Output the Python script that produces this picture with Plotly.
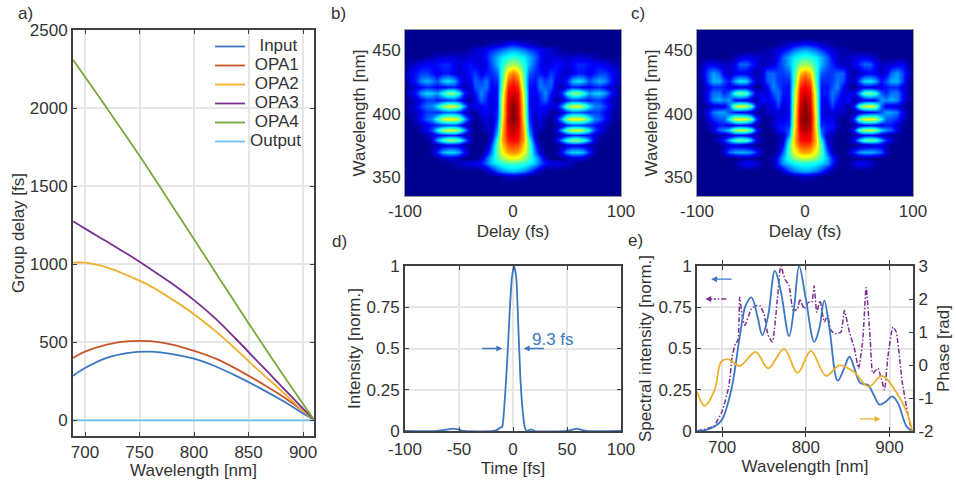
import plotly.graph_objects as go

W, H = 956, 480
TXT = "#333333"
FRAME = "#404040"
GRID = "#e6e6e6"
FONT = "Liberation Sans"

# ---- panel a
wl_a = [689, 700, 720, 740, 760, 780, 800, 820, 840, 860, 880, 900, 910]
gd_input = [285, 335, 400, 432, 440, 425, 395, 345, 280, 208, 130, 45, 5]
gd_opa1 = [400, 440, 485, 507, 507, 485, 445, 395, 325, 245, 160, 60, 5]
gd_opa2 = [1010, 1010, 980, 925, 860, 775, 680, 570, 445, 315, 190, 60, 5]
gd_opa3 = [1275, 1228, 1145, 1060, 970, 875, 770, 650, 510, 365, 220, 75, 5]
wl_opa4 = [689, 700, 720, 750, 775, 800, 825, 850, 875, 900, 910]
gd_opa4 = [2310, 2200, 2000, 1695, 1428, 1160, 890, 622, 360, 105, 5]
gd_output = [0] * len(wl_a)

# ---- panels b, c  (half maps: delay >= 0, mirrored about zero delay)
delay_half = [0, 5, 10, 15, 20, 25, 30, 35, 40, 45, 50, 55, 60, 65, 70, 75, 80, 85, 90, 95, 100]
wl_map = [335, 345, 351, 355, 361, 365, 370, 375, 379, 383, 387, 391, 396, 401, 406, 411, 416,
          421, 426, 432, 439, 445, 450, 455, 460, 466]
map_b = [
    [0],
    [0],
    [6, 5, 3],
    [32, 30, 26, 20, 10, 4],
    [44, 44, 42, 38, 32, 22, 14, 10, 10, 8, 6, 4],
    [62, 60, 52, 44, 32, 20, 6, 0, 0, 0, 4, 8, 8, 6, 2],
    [74, 72, 62, 46, 24, 8, 0, 0, 2, 14, 28, 34, 34, 30, 16, 4],
    [82, 80, 66, 46, 18, 2, 0, 0, 0, 3, 8, 10, 10, 8, 4, 2],
    [88, 85, 70, 42, 10, 0, 0, 0, 8, 28, 44, 52, 52, 44, 28, 10, 2],
    [91, 88, 70, 32, 6, 0, 0, 0, 2, 6, 12, 16, 16, 14, 12, 8, 4],
    [94, 90, 68, 26, 6, 6, 0, 0, 8, 30, 50, 58, 60, 54, 38, 20, 12, 6],
    [96, 92, 66, 22, 4, 8, 2, 0, 2, 8, 16, 20, 20, 18, 16, 14, 10, 6, 2],
    [100, 94, 62, 18, 4, 10, 4, 0, 10, 32, 54, 62, 62, 58, 42, 26, 22, 14, 6],
    [100, 92, 60, 16, 8, 12, 10, 2, 2, 8, 16, 22, 22, 20, 16, 18, 18, 12, 6, 2],
    [100, 92, 60, 14, 8, 14, 12, 10, 8, 28, 50, 58, 60, 52, 36, 26, 24, 18, 10, 4],
    [96, 90, 58, 14, 8, 16, 22, 10, 2, 6, 14, 20, 18, 16, 14, 18, 18, 12, 6, 2],
    [92, 88, 56, 14, 10, 18, 26, 14, 6, 16, 38, 50, 52, 42, 28, 32, 34, 28, 16, 8],
    [88, 84, 50, 14, 12, 24, 22, 20, 6, 4, 10, 16, 14, 12, 12, 14, 16, 12, 8, 4],
    [84, 78, 46, 16, 14, 24, 18, 22, 10, 8, 16, 30, 36, 32, 20, 26, 30, 26, 16, 8, 2],
    [76, 68, 44, 22, 16, 14, 10, 18, 14, 8, 6, 10, 14, 14, 10, 14, 18, 18, 14, 10, 3],
    [54, 50, 40, 30, 20, 12, 8, 10, 14, 12, 8, 12, 16, 16, 14, 12, 12, 10, 8, 4],
    [42, 40, 36, 30, 22, 14, 8, 8, 8, 6, 6, 8, 8, 8, 6, 4, 2],
    [30, 28, 24, 20, 16, 12, 10, 8, 4, 2],
    [14, 12, 8, 6, 4, 2],
    [0],
    [0],
]
map_c = [
    [0],
    [0],
    [6, 5, 3],
    [30, 28, 24, 18, 8, 2],
    [40, 40, 38, 34, 28, 16, 4, 0, 2, 8, 12, 12, 8, 2],
    [58, 56, 50, 42, 30, 16, 4, 0, 0, 0, 2, 2, 2],
    [72, 70, 60, 46, 22, 6, 0, 0, 4, 16, 26, 30, 30, 28, 22, 8],
    [82, 80, 66, 44, 14, 2, 0, 0, 0, 0, 2, 4, 6, 8, 8, 4],
    [88, 86, 68, 38, 8, 2, 0, 0, 2, 12, 32, 46, 50, 46, 30, 16, 8, 2],
    [91, 88, 66, 26, 6, 4, 0, 0, 0, 2, 6, 10, 12, 10, 6, 4, 2],
    [96, 92, 64, 22, 14, 12, 2, 0, 2, 16, 44, 56, 58, 54, 34, 26, 22, 10, 2],
    [98, 94, 60, 16, 14, 14, 6, 0, 0, 2, 8, 12, 14, 12, 10, 14, 14, 8, 2],
    [100, 96, 60, 14, 10, 10, 4, 0, 2, 18, 48, 60, 62, 60, 38, 22, 20, 16, 8],
    [100, 94, 58, 12, 6, 10, 6, 8, 0, 2, 6, 10, 12, 14, 20, 28, 28, 24, 12, 2],
    [100, 92, 56, 12, 8, 18, 10, 8, 2, 14, 44, 58, 60, 56, 22, 10, 8, 8, 4],
    [96, 90, 54, 12, 12, 22, 14, 10, 14, 2, 6, 10, 12, 12, 28, 26, 30, 26, 14, 2],
    [92, 88, 52, 14, 14, 24, 20, 8, 10, 10, 26, 46, 50, 44, 22, 16, 24, 24, 14, 4],
    [88, 84, 48, 14, 14, 20, 26, 12, 4, 0, 6, 10, 10, 8, 10, 14, 16, 16, 10, 2],
    [84, 78, 44, 16, 16, 18, 24, 20, 8, 6, 20, 34, 36, 30, 14, 20, 30, 30, 20, 4],
    [74, 68, 42, 22, 18, 18, 22, 22, 8, 2, 6, 10, 12, 10, 6, 10, 22, 28, 20, 8],
    [54, 50, 40, 30, 22, 16, 8, 6, 4, 10, 16, 22, 22, 12, 6, 6, 8, 10, 12, 4],
    [42, 40, 36, 30, 22, 12, 6, 4, 6, 8, 10, 10, 8, 4],
    [30, 28, 24, 18, 12, 8, 6, 4, 2],
    [14, 12, 10, 6, 4, 2],
    [0],
    [0],
]

# ---- panel d
time_fs = [-100, -70, -60, -55, -50, -45, -18, -14, -12, -10, -9, -7, -5, -3, -1, 1, 3, 5, 7, 9, 11,
           13, 17, 20, 50, 55, 59, 64, 68, 100]
intensity = [0, 0, 0.01, 0.015, 0.008, 0, 0, 0.01, 0.02, 0.025, 0.07, 0.25, 0.47, 0.73, 0.93, 1, 0.93,
             0.62, 0.3, 0.12, 0.02, 0, 0.01, 0, 0, 0.008, 0.015, 0.006, 0, 0]

# ---- panel e
wl_blue = [670, 680, 692, 700, 711, 721, 728, 735, 742, 748, 755, 763, 770, 780, 786, 792, 800, 810,
           816, 822, 828, 838, 845, 852, 858, 865, 874, 881, 888, 896, 903, 910, 920, 927, 930]
spec_blue = [0, 0.005, 0.03, 0.07, 0.25, 0.57, 0.76, 0.81, 0.70, 0.58, 0.70, 0.97, 0.85, 0.575, 0.75,
             1.0, 0.80, 0.54, 0.62, 0.79, 0.63, 0.305, 0.37, 0.45, 0.38, 0.29, 0.28, 0.22, 0.16, 0.18,
             0.21, 0.17, 0.03, 0, 0]
wl_purple = [670, 690, 700, 708, 712, 716, 719, 721, 724, 727, 735, 740, 745, 750, 755, 760, 766, 770,
             775, 780, 785, 790, 793, 798, 803, 807, 810, 813, 817, 822, 826, 830, 835, 842, 846, 852,
             858, 863, 868, 872, 877, 880, 886, 890, 894, 898, 904, 908, 915, 922, 927, 930]
spec_purple = [0, 0.03, 0.12, 0.27, 0.45, 0.53, 0.55, 0.81, 0.70, 0.64, 0.74, 0.76, 0.76, 0.71, 0.58,
               0.54, 0.80, 1.0, 0.92, 0.88, 0.73, 0.74, 0.80, 0.74, 0.78, 0.78, 0.88, 0.72, 0.79, 0.66,
               0.70, 0.61, 0.59, 0.60, 0.73, 0.60, 0.50, 0.38, 0.55, 0.87, 0.55, 0.35, 0.38, 0.32,
               0.25, 0.45, 0.63, 0.60, 0.30, 0.10, 0, 0]
wl_phase = [670, 679, 691, 699, 707, 721, 740, 755, 774, 790, 806, 824, 840, 857, 875, 891, 909, 921, 927]
phase_rad = [-0.81, -1.23, -0.76, 0.10, 0.18, -0.03, 0.40, -0.10, 0.49, -0.24, 0.43, -0.33, -0.01, -0.20,
             -0.66, -0.33, -0.86, -1.45, -2]

BLUE, ORANGE, YELLOW = "#3b78c3", "#c9572c", "#ecb02c"
PURPLE, GREEN, LIGHT = "#7a2f90", "#79a93a", "#6fbff0"
DASHDOT = "5px,2px,1.5px,2px"


def dom_x(a, b):
    return [a / W, b / W]


def dom_y(top, bottom):
    return [1 - bottom / H, 1 - top / H]


def full(rows):
    out = []
    for r in rows:
        r = r + [0] * (len(delay_half) - len(r))
        out.append(r[:0:-1] + r)
    return out


delay = [-d for d in delay_half[:0:-1]] + delay_half
jet = [[0, "#00008f"], [0.125, "#0000ff"], [0.375, "#00ffff"], [0.625, "#ffff00"], [0.875, "#ff0000"], [1, "#800000"]]

fig = go.Figure()
for name, xs, ys, col in [("\u00a0\u00a0Input", wl_a, gd_input, BLUE), ("\u00a0OPA1", wl_a, gd_opa1, ORANGE),
                          ("\u00a0OPA2", wl_a, gd_opa2, YELLOW), ("\u00a0OPA3", wl_a, gd_opa3, PURPLE),
                          ("\u00a0OPA4", wl_opa4, gd_opa4, GREEN), ("Output", wl_a, gd_output, LIGHT)]:
    fig.add_trace(go.Scatter(x=xs, y=ys, name=f'<span style="font-size:17px">{name}</span>', mode="lines",
                             xaxis="x", yaxis="y", line=dict(color=col, width=1.8, shape="spline", smoothing=1)))
for z, xa, ya in [(map_b, "x2", "y2"), (map_c, "x3", "y3")]:
    fig.add_trace(go.Heatmap(x=delay, y=wl_map, z=full(z), xaxis=xa, yaxis=ya, zmin=0, zmax=100,
                             colorscale=jet, zsmooth="best", showscale=False, showlegend=False))
fig.add_trace(go.Scatter(x=time_fs, y=intensity, mode="lines", xaxis="x4", yaxis="y4", showlegend=False,
                         line=dict(color=BLUE, width=1.8, shape="spline", smoothing=0.6)))
fig.add_trace(go.Scatter(x=wl_purple, y=spec_purple, mode="lines", xaxis="x5", yaxis="y5", showlegend=False,
                         line=dict(color=PURPLE, width=1.5, dash=DASHDOT, shape="spline", smoothing=0.5)))
fig.add_trace(go.Scatter(x=wl_blue, y=spec_blue, mode="lines", xaxis="x5", yaxis="y5", showlegend=False,
                         line=dict(color=BLUE, width=1.8, shape="spline", smoothing=1)))
fig.add_trace(go.Scatter(x=wl_phase, y=phase_rad, mode="lines", xaxis="x5", yaxis="y6", showlegend=False,
                         line=dict(color=YELLOW, width=1.8, shape="spline", smoothing=1)))
fig.add_trace(go.Scatter(x=[705, 690], y=[0.80, 0.80], mode="lines", xaxis="x5", yaxis="y5", showlegend=False,
                         line=dict(color=PURPLE, width=1.3, dash=DASHDOT)))

tickf = dict(size=17, color=TXT, family=FONT)
titlef = dict(size=17, color=TXT, family=FONT)


def axis(dom, rng, vals, title, anchor, standoff, labels=None, grid=True, side=None, mirror="allticks", ticks="inside", lc=FRAME, lw=2):
    d = dict(domain=dom, range=rng, tickmode="array", tickvals=vals, automargin=False,
             ticktext=labels if labels else [str(v) for v in vals], showgrid=grid, gridcolor=GRID, gridwidth=1.5,
             zeroline=False, showline=True, linecolor=lc, linewidth=lw, mirror=mirror, ticks=ticks, ticklen=4,
             tickcolor=lc, tickwidth=1.3, tickfont=tickf, anchor=anchor,
             title=dict(text=title, font=titlef, standoff=standoff))
    if side:
        d["side"] = side
    return d


layout = dict(
    width=W, height=H, autosize=False, margin=dict(l=0, r=0, t=0, b=0, autoexpand=False),
    paper_bgcolor="white", plot_bgcolor="white", font=dict(family=FONT, color=TXT),
    legend=dict(x=210 / W, xanchor="left", y=1 - 32 / H, yanchor="top", bgcolor="rgba(0,0,0,0)",
                font=dict(size=12, color=TXT, family=FONT), tracegroupgap=0),
    xaxis=axis(dom_x(73, 314), [689, 910], [700, 750, 800, 850, 900], "Wavelength [nm]", "y", 2),
    yaxis=axis(dom_y(30, 436), [-100, 2500], [0, 500, 1000, 1500, 2000, 2500], "Group delay [fs]", "x", 1),
    xaxis2=axis(dom_x(405, 621), [-100, 100], [-100, 0, 100], "Delay (fs)", "y2", 4, grid=False, ticks="", lc="#9a9a9a", lw=1),
    yaxis2=axis(dom_y(30, 196), [335, 466], [350, 400, 450], "Wavelength [nm]", "x2", 2, grid=False, ticks="", lc="#9a9a9a", lw=1),
    xaxis3=axis(dom_x(697, 913), [-100, 100], [-100, 0, 100], "Delay (fs)", "y3", 4, grid=False, ticks="", lc="#9a9a9a", lw=1),
    yaxis3=axis(dom_y(30, 196), [335, 466], [350, 400, 450], "Wavelength [nm]", "x3", 2, grid=False, ticks="", lc="#9a9a9a", lw=1),
    xaxis4=dict(axis(dom_x(405, 621), [-100, 100], [-100, -50, 0, 50, 100], "Time [fs]", "y4", 2), ticklabelstandoff=2),
    yaxis4=axis(dom_y(266, 431), [0, 1], [0, 0.25, 0.5, 0.75, 1], "Intensity [norm.]", "x4", 2,
                labels=["0", "0.25", "0.5", "0.75", "1"]),
    xaxis5=axis(dom_x(697, 913), [670, 928], [700, 800, 900], "Wavelength [nm]", "y5", 4),
    yaxis5=axis(dom_y(266, 431), [0, 1], [0, 0.25, 0.5, 0.75, 1], "Spectral intensity [norm.]", "x5", 3,
                labels=["0", "0.25", "0.5", "0.75", "1"], mirror=False),
    yaxis6=dict(axis(dom_y(266, 431), [-2, 3], [-2, -1, 0, 1, 2, 3], "Phase [rad]", "x5", 2, grid=False,
                     side="right", mirror=False), overlaying="y5"),
)
fig.update_layout(**layout)


def arrow(xa, ya, x0, y0, x1, y1, col):
    fig.add_annotation(xref=xa, yref=ya, axref=xa, ayref=ya, x=x1, y=y1, ax=x0, ay=y0, text="", showarrow=True,
                       arrowhead=2, arrowsize=0.9, arrowwidth=1.3, arrowcolor=col)


arrow("x4", "y4", -30, 0.5, -10, 0.5, BLUE)
arrow("x4", "y4", 30, 0.5, 10, 0.5, BLUE)
arrow("x5", "y5", 713, 0.92, 687, 0.92, BLUE)
arrow("x5", "y5", 690, 0.80, 680, 0.80, PURPLE)
arrow("x5", "y5", 863, 0.073, 889, 0.073, YELLOW)
fig.add_annotation(xref="x4", yref="y4", x=37, y=0.555, text="9.3 fs", showarrow=False,
                   font=dict(size=17, color=BLUE, family=FONT))
for lab, px, py in [("a)", 25, 13), ("b)", 338, 13), ("c)", 638, 13), ("d)", 339, 241), ("e)", 635, 240)]:
    fig.add_annotation(xref="paper", yref="paper", x=px / W, y=1 - py / H, text=lab, showarrow=False,
                       xanchor="center", yanchor="middle", font=dict(size=17, color=TXT, family=FONT))

fig.write_html("out.html", config=dict(displayModeBar=False), post_script="document.body.style.margin='0';")
